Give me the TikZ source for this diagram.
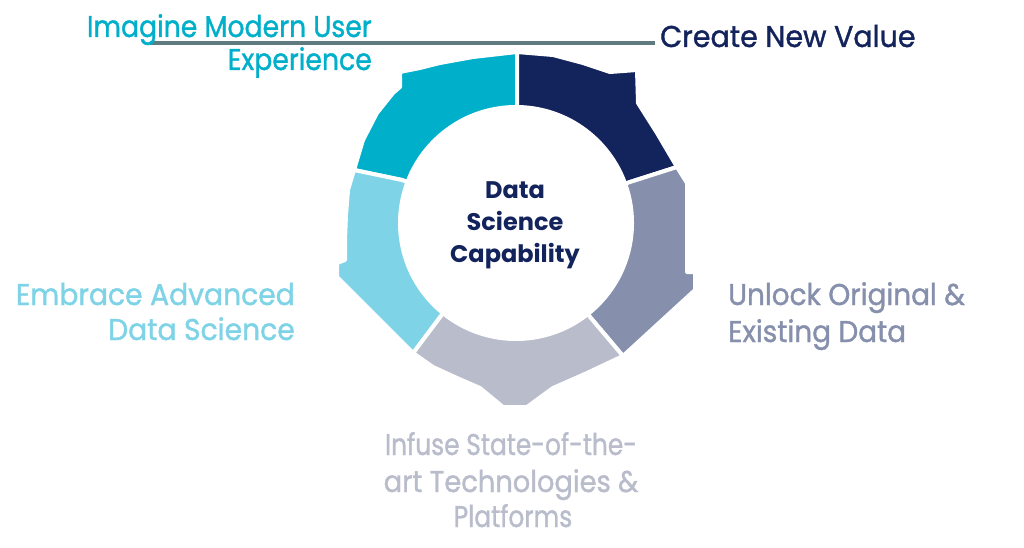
\documentclass[tikz,border=0pt]{standalone}
\usepackage{fontspec}
\setmainfont{Poppins}
\newfontfamily\lblfont[FakeBold=1.2]{Poppins}
\definecolor{cyanA}{HTML}{00AFCA}
\definecolor{navyA}{HTML}{13235B}
\definecolor{grayblueA}{HTML}{8690AD}
\definecolor{grayA}{HTML}{B8BCCB}
\definecolor{lcyanA}{HTML}{7ED3E6}
\definecolor{lineA}{HTML}{5F7B7F}
\newcommand{\sx}[2]{\scalebox{#1}[1]{#2}}
\begin{document}
\begin{tikzpicture}[x=1pt,y=-1pt,
  seg/.style={draw=white,line width=4pt,line join=round},
  lbl/.style={inner sep=0pt,font=\lblfont\fontsize{30}{36}\selectfont},
  ctr/.style={inner sep=0pt,font=\bfseries\fontsize{24}{31}\selectfont,text=navyA,anchor=base},
  topline/.style={draw=lineA,line width=4pt}]
\useasboundingbox (0,0) rectangle (1024,548);
\fill[white] (0,0) rectangle (1024,548);
\coordinate (C) at (516,223);
% segments
\path[seg,fill=cyanA] (C) -- (402,180) -- (354,170) -- (363,140) -- (377,113) -- (393,93) -- (400,87) -- (400,72) -- (420,68) -- (440,63) -- (473,57) -- (517,52) -- (517,106) -- cycle;
\path[seg,fill=navyA] (C) -- (517,106) -- (517,52) -- (553,55) -- (583,63) -- (610,72) -- (637,70) -- (638,103) -- (657,133) -- (677,167) -- (630,182) -- cycle;
\path[seg,fill=grayblueA] (C) -- (630,182) -- (677,167) -- (687,183) -- (687,272) -- (695,272) -- (695,290) -- (623,356) -- (590,317) -- cycle;
\path[seg,fill=grayA] (C) -- (590,317) -- (623,356) -- (587,373) -- (553,388) -- (527,407) -- (503,407) -- (480,388) -- (457,378) -- (433,367) -- (413,353) -- (440,317) -- cycle;
\path[seg,fill=lcyanA] (C) -- (440,317) -- (413,353) -- (337,277) -- (337,263) -- (345,260) -- (345,240) -- (346,215) -- (348,190) -- (354,170) -- (402,180) -- cycle;
\fill[white] (C) circle[radius=118pt];
% center text
\node[ctr] (c1) at (515,198) {Data};
\node[ctr] (c2) at (515,230) {Science};
\node[ctr] (c3) at (515,262) {Capability};
% top line
\coordinate (tl1) at (150,43);
\coordinate (tl2) at (655,43);
\draw[topline] (tl1) -- (tl2);
% labels
\node[lbl,text=cyanA,anchor=base east] (a1) at (372,37) {\sx{0.89}{Imagine Modern User}};
\node[lbl,text=cyanA,anchor=base east] (a2) at (372,70) {\sx{0.89}{Experience}};
\node[lbl,text=navyA,anchor=base west] (b1) at (660,47) {\sx{0.95}{Create New Value}};
\node[lbl,text=lcyanA,anchor=base east] (d1) at (295,305) {\sx{0.94}{Embrace Advanced}};
\node[lbl,text=lcyanA,anchor=base east] (d2) at (295,340) {\sx{0.94}{Data Science}};
\node[lbl,text=grayblueA,anchor=base west] (e1) at (728,305) {\sx{0.93}{Unlock Original \&}};
\node[lbl,text=grayblueA,anchor=base west] (e2) at (728,342) {\sx{0.93}{Existing Data}};
\node[lbl,text=grayA,anchor=base] (f1) at (511,455) {\sx{0.83}{Infuse State-of-the-}};
\node[lbl,text=grayA,anchor=base] (f2) at (511,492) {\sx{0.91}{art Technologies \&}};
\node[lbl,text=grayA,anchor=base] (f3) at (513,527) {\sx{0.83}{Platforms}};
\end{tikzpicture}
\end{document}
